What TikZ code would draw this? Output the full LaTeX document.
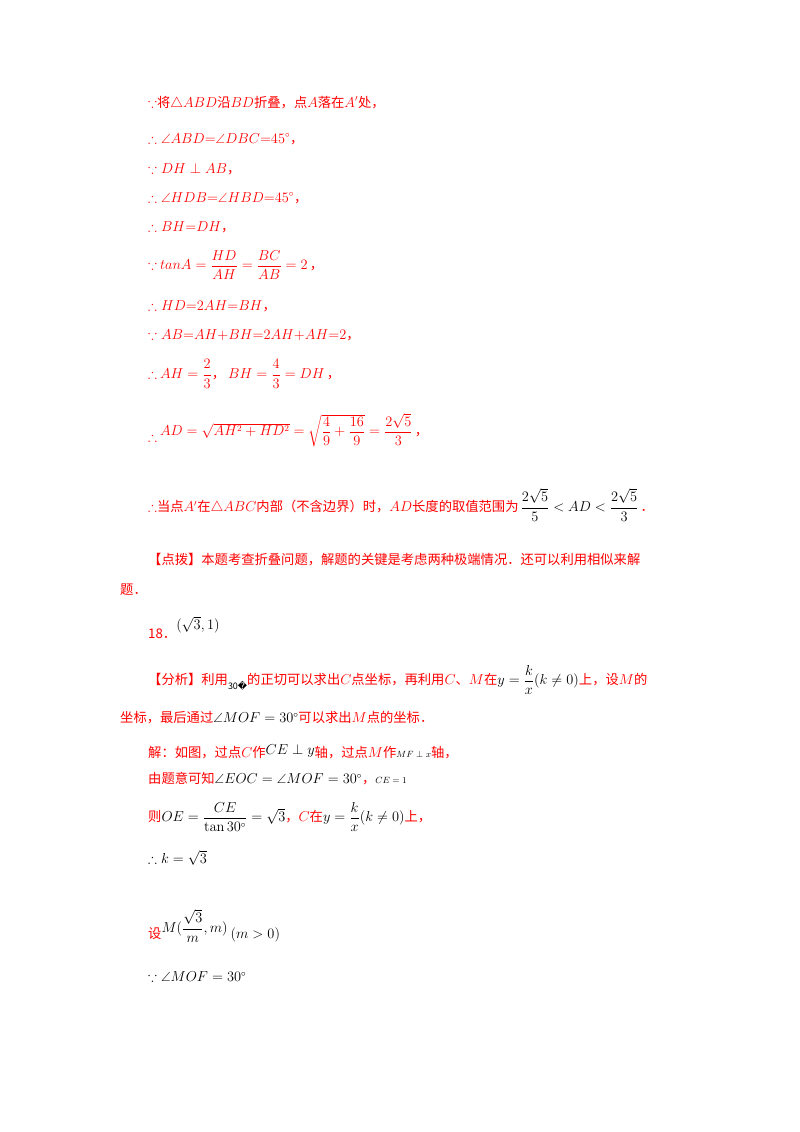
\documentclass[tikz,border=0pt]{standalone}
\usepackage{amsmath,amssymb}
\usepackage[no-math]{fontspec}
\setmainfont{Noto Sans CJK SC}
\newfontfamily\dv{DejaVu Sans}
\newcommand{\blk}[1]{\textcolor{black}{#1}}
\begin{document}
\begin{tikzpicture}[x=1pt,y=-1pt,
  ln/.style={anchor=west,inner sep=0pt,text=red,font=\fontsize{13.3}{16}\selectfont}]
\useasboundingbox[fill=white] (0,0) rectangle (800,1132);
\node[ln] (l1) at (148,103) {$\because$将$\triangle ABD$沿$BD$折叠，点$A$落在$A'$处，};
\node[ln] (l2) at (148,139) {$\therefore\angle ABD{=}\angle DBC{=}45^\circ$，};
\node[ln] (l3) at (148,169) {$\because DH\perp AB$，};
\node[ln] (l4) at (148,198) {$\therefore\angle HDB{=}\angle HBD{=}45^\circ$，};
\node[ln] (l5) at (148,227) {$\therefore BH{=}DH$，};
\node[ln] (l6) at (148,265) {$\because$ $tanA=\dfrac{HD}{AH}=\dfrac{BC}{AB}=2$\,，};
\node[ln] (l7) at (148,306) {$\therefore HD{=}2AH{=}BH$，};
\node[ln] (l8) at (148,335) {$\because AB{=}AH{+}BH{=}2AH{+}AH{=}2$，};
\node[ln] (l9) at (148,374) {$\therefore$ $AH=\dfrac{2}{3}$，\ $BH=\dfrac{4}{3}=DH$\,，};
\node[ln] (l10) at (148,430) {$\therefore$ \raisebox{6pt}{$AD=\sqrt{AH^2+HD^2}=\sqrt{\dfrac{4}{9}+\dfrac{16}{9}}=\dfrac{2\sqrt5}{3}$\,，}};
\node[ln] (l11) at (148,505) {$\therefore$当点$A'$在$\triangle ABC$内部（不含边界）时，$AD$长度的取值范围为\,\blk{$\dfrac{2\sqrt5}{5}<AD<\dfrac{2\sqrt5}{3}$}\,．};
\node[ln] (l12) at (148,560) {【点拨】本题考查折叠问题，解题的关键是考虑两种极端情况．还可以利用相似来解};
\node[ln] (l12b) at (120,590) {题．};
\node[ln] (l13) at (148,628) {18．\raisebox{9pt}{\blk{$(\sqrt3,1)$}}};
\node[ln] (l14) at (148,680) {【分析】利用\raisebox{-5pt}{\blk{\small 30{\dv\char"FFFD}}}的正切可以求出$C$点坐标，再利用$C$、$M$在\blk{$y=\dfrac{k}{x}(k\neq0)$}上，设$M$的};
\node[ln] (l14b) at (120,718) {坐标，最后通过\blk{$\angle MOF=30^\circ$}可以求出$M$点的坐标．};
\node[ln] (l15) at (148,752) {解：如图，过点$C$作\blk{\raisebox{3pt}{$CE\perp y$}}轴，过点$M$作\blk{\small$MF\perp x$}轴，};
\node[ln] (l16) at (148,779) {由题意可知\blk{$\angle EOC=\angle MOF=30^\circ$}，\blk{\small$CE=1$}};
\node[ln] (l17) at (148,817) {则\blk{$OE=\dfrac{CE}{\tan30^\circ}=\sqrt3$}，$C$在\blk{$y=\dfrac{k}{x}(k\neq0)$}上，};
\node[ln,text=black] (l18) at (148,858) {$\therefore k=\sqrt3$};
\node[ln] (l19) at (148,926) {设\blk{\raisebox{6pt}{$M(\dfrac{\sqrt3}{m},m)$}\ $(m>0)$}};
\node[ln,text=black] (l20) at (148,977) {$\because\angle MOF=30^\circ$};
\end{tikzpicture}
\end{document}
